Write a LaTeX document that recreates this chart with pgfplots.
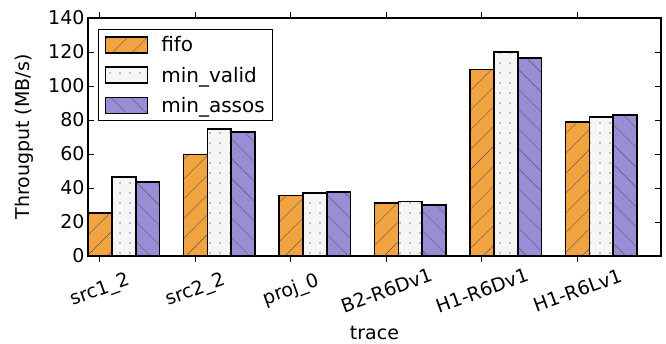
\documentclass[border=0pt]{standalone}
\usepackage{pgfplots}
\pgfplotsset{compat=1.18}
\usepackage{fontspec}
\setmainfont{DejaVu Sans}
\usetikzlibrary{patterns.meta}
\definecolor{cfifo}{HTML}{F1A340}
\definecolor{cvalid}{HTML}{F5F5F5}
\definecolor{cassos}{HTML}{988ED5}
\newcommand{\F}{\fontsize{19}{23}\selectfont}
\newcommand{\FL}{\fontsize{20}{24}\selectfont}
\begin{document}
\begin{tikzpicture}
\begin{axis}[
  scale only axis, width=573pt, height=238pt,
  xmin=-0.125, xmax=5.875, ymin=0, ymax=140,
  ytick={0,20,...,140},
  xtick={0,1,2,3,4,5},
  xticklabels={src1\_2,src2\_2,proj\_0,B2-R6Dv1,H1-R6Dv1,H1-R6Lv1},
  /pgf/number format/assume math mode=true,
  tick label style={font=\F},
  xticklabel style={rotate=20, anchor=center},
  xticklabel shift=28.5pt,
  label style={font=\F},
  ylabel={Througput (MB/s)},
  xlabel={trace},
  ylabel style={at={(axis description cs:-0.1117,0.5)}, anchor=center},
  xlabel style={at={(axis description cs:0.5,-0.3235)}, anchor=center},
  tick align=inside, tick pos=both,
  major tick length=6pt,
  every tick/.style={black, line width=0.9pt},
  axis line style={line width=1.4pt},
  ybar, bar width=0.25,
  legend style={font=\FL, at={(0,1)}, anchor=north west, xshift=10pt, yshift=-11pt,
    draw=black, line width=1.4pt, inner xsep=6pt, inner ysep=5pt, row sep=9.5pt,
    nodes={inner sep=2pt}},
  legend cell align=left,
  legend image code/.code={\draw[#1] (0pt,-8pt) rectangle (42pt,8pt); \path (53pt,0pt);},
]
\addplot[bar shift=0, fill=cfifo, draw=black, line width=1.6pt,
  postaction={pattern color=black!65, pattern={Lines[angle=45,distance=14pt,line width=0.4pt]}}]
  coordinates {(0,25.4) (1,59.8) (2,35.6) (3,31.3) (4,109.6) (5,78.7)};
\addplot[bar shift=0.25, fill=cvalid, draw=black, line width=1.6pt,
  postaction={pattern color=black!45, pattern={Dots[distance=10pt,radius=0.8pt]}}]
  coordinates {(0,46.6) (1,74.8) (2,37.2) (3,32.0) (4,120.0) (5,81.6)};
\addplot[bar shift=0.5, fill=cassos, draw=black, line width=1.6pt,
  postaction={pattern color=black!65, pattern={Lines[angle=-45,distance=14pt,line width=0.4pt]}}]
  coordinates {(0,43.6) (1,72.8) (2,37.7) (3,29.9) (4,116.5) (5,83.0)};
\legend{fifo,min\_valid,min\_assos}
\end{axis}
\path (current axis.south west) +(-88pt,-87pt) coordinate (bbA);
\path (current axis.north east) +(5pt,18pt) coordinate (bbB);
\pgfresetboundingbox
\path (bbA) rectangle (bbB);
\end{tikzpicture}
\end{document}
